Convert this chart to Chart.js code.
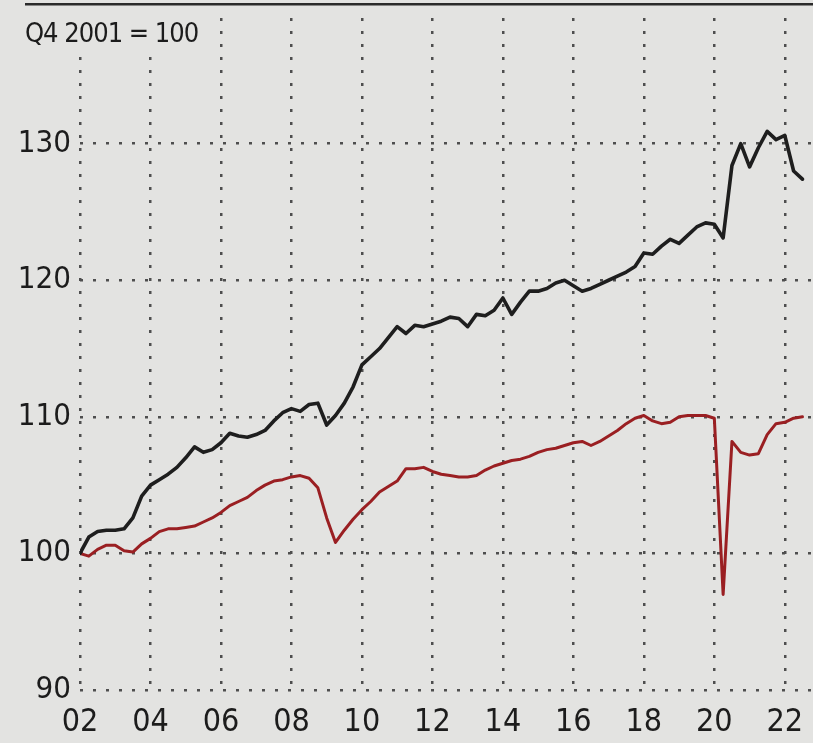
<!DOCTYPE html>
<html>
<head>
<meta charset="utf-8">
<title>Index, Q4 2001 = 100</title>
<script src="https://cdn.jsdelivr.net/npm/chart.js@4.4.0/dist/chart.umd.min.js"></script>
<style>
  html, body { margin: 0; padding: 0; background: #e2e2e0; }
  #wrap { width: 813px; height: 743px; position: relative; }
</style>
</head>
<body>
<div id="wrap"><canvas id="chart" width="813" height="743"></canvas></div>
<script>
// Quarterly index values, Q4 2001 = 100
const firstYear = 2001;
const firstQuarter = 4;

const seriesBlack = [
  100.0, 101.2, 101.6, 101.7, 101.7, 101.8, 102.6, 104.2, 105.0, 105.4,
  105.8, 106.3, 107.0, 107.8, 107.4, 107.6, 108.1, 108.8, 108.6, 108.5,
  108.7, 109.0, 109.7, 110.3, 110.6, 110.4, 110.9, 111.0, 109.4, 110.1,
  111.0, 112.2, 113.8, 114.4, 115.0, 115.8, 116.6, 116.1, 116.7, 116.6,
  116.8, 117.0, 117.3, 117.2, 116.6, 117.5, 117.4, 117.8, 118.7, 117.5,
  118.4, 119.2, 119.2, 119.4, 119.8, 120.0, 119.6, 119.2, 119.4, 119.7,
  120.0, 120.3, 120.6, 121.0, 122.0, 121.9, 122.5, 123.0, 122.7, 123.3,
  123.9, 124.2, 124.1, 123.1, 128.4, 130.0, 128.3, 129.7, 130.9, 130.3,
  130.6, 128.0, 127.4
];

const seriesRed = [
  100.0, 99.8, 100.3, 100.6, 100.6, 100.2, 100.1, 100.7, 101.1, 101.6,
  101.8, 101.8, 101.9, 102.0, 102.3, 102.6, 103.0, 103.5, 103.8, 104.1,
  104.6, 105.0, 105.3, 105.4, 105.6, 105.7, 105.5, 104.8, 102.6, 100.8,
  101.7, 102.5, 103.2, 103.8, 104.5, 104.9, 105.3, 106.2, 106.2, 106.3,
  106.0, 105.8, 105.7, 105.6, 105.6, 105.7, 106.1, 106.4, 106.6, 106.8,
  106.9, 107.1, 107.4, 107.6, 107.7, 107.9, 108.1, 108.2, 107.9, 108.2,
  108.6, 109.0, 109.5, 109.9, 110.1, 109.7, 109.5, 109.6, 110.0, 110.1,
  110.1, 110.1, 109.9, 97.0, 108.2, 107.4, 107.2, 107.3, 108.7, 109.5,
  109.6, 109.9, 110.0
];

const yearTicks = [2002, 2004, 2006, 2008, 2010, 2012, 2014, 2016, 2018, 2020, 2022];
const valueTicks = [90, 100, 110, 120, 130];
const indexNote = 'Q4 2001 = 100';

// Quarter labels and their positions on a time axis (end of quarter)
const quarters = seriesBlack.map((_, i) => {
  const n = (firstQuarter - 1) + i;
  return { year: firstYear + Math.floor(n / 4), q: (n % 4) + 1 };
});
const quarterPos = quarters.map(d => d.year + d.q / 4);

const paper = '#e3e3e1';
const ink = '#1c1c1c';
const dotColor = '#4e4e4e';
const fontFamily = '"Liberation Sans Narrow", "DejaVu Sans Condensed", "Liberation Sans", sans-serif';

const paperPlugin = {
  id: 'paper',
  beforeDraw(chart) {
    const ctx = chart.ctx;
    ctx.save();
    ctx.fillStyle = paper;
    ctx.fillRect(0, 0, chart.width, chart.height);
    ctx.restore();
  }
};

// Rule across the top and the index base note, drawn over the grid
const notePlugin = {
  id: 'note',
  beforeDatasetsDraw(chart) {
    const ctx = chart.ctx;
    ctx.save();
    ctx.fillStyle = '#2a2a2a';
    ctx.fillRect(25, 3, chart.width - 25, 2.5);
    ctx.font = '27px ' + fontFamily;
    if ('letterSpacing' in ctx) ctx.letterSpacing = '-1px';
    const w = ctx.measureText(indexNote).width;
    ctx.fillStyle = paper;
    ctx.fillRect(20, 10, w + 12, 40);
    ctx.fillStyle = ink;
    ctx.textBaseline = 'alphabetic';
    ctx.fillText(indexNote, 25, 42);
    ctx.restore();
  }
};

new Chart(document.getElementById('chart'), {
  type: 'line',
  data: {
    datasets: [
      {
        label: 'Black',
        data: seriesBlack.map((v, i) => ({ x: quarterPos[i], y: v })),
        borderColor: '#1e1e1e',
        borderWidth: 3.6
      },
      {
        label: 'Red',
        data: seriesRed.map((v, i) => ({ x: quarterPos[i], y: v })),
        borderColor: '#9a1f22',
        borderWidth: 3
      }
    ]
  },
  options: {
    responsive: false,
    devicePixelRatio: 1,
    animation: false,
    layout: { padding: { top: 18, right: 0, bottom: 0, left: 0 } },
    elements: {
      point: { radius: 0 },
      line: { tension: 0, borderJoinStyle: 'round', borderCapStyle: 'round', fill: false }
    },
    plugins: { legend: { display: false }, tooltip: { enabled: false } },
    scales: {
      x: {
        type: 'linear',
        min: 2002,
        max: 2022.8,
        afterBuildTicks: s => { s.ticks = yearTicks.map(v => ({ value: v })); },
        afterFit: s => { s.height = 53; s.paddingLeft = 0; s.paddingRight = 0; },
        grid: { color: dotColor, lineWidth: 2.5, drawTicks: false },
        border: { display: false, dash: [3, 10] },
        ticks: {
          padding: 13,
          color: ink,
          maxRotation: 0,
          autoSkip: false,
          font: { family: fontFamily, size: 32 },
          callback: v => String(v).slice(2)
        }
      },
      y: {
        min: 90,
        max: 139.2,
        afterBuildTicks: s => { s.ticks = valueTicks.map(v => ({ value: v })); },
        afterFit: s => { s.width = 80; s.paddingTop = 0; s.paddingBottom = 0; },
        grid: { color: dotColor, lineWidth: 2.5, drawTicks: false },
        border: { display: false, dash: [3, 10] },
        ticks: {
          padding: 9,
          color: ink,
          font: { family: fontFamily, size: 31 }
        }
      }
    }
  },
  plugins: [paperPlugin, notePlugin]
});
</script>
</body>
</html>
